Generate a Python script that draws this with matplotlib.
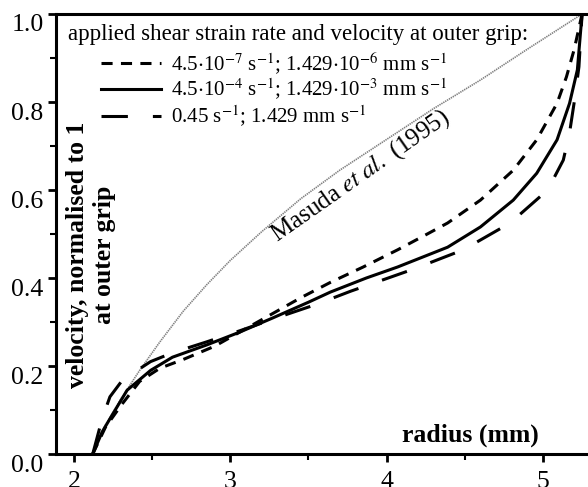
import matplotlib
matplotlib.use("Agg")
import matplotlib.pyplot as plt
from matplotlib.ticker import MultipleLocator
from matplotlib.transforms import ScaledTranslation

plt.rcParams["font.family"] = ["Liberation Serif", "DejaVu Serif"]
plt.rcParams["mathtext.fontset"] = "stix"
plt.rcParams["lines.scale_dashes"] = False

# radius (mm) / normalised velocity
r_slow = [2.12, 2.2, 2.3, 2.42, 2.55, 2.7, 2.9, 3.1, 3.3, 3.45, 3.64, 3.85,
          4.07, 4.26, 4.39, 4.6, 4.81, 4.96, 5.09, 5.15, 5.2, 5.25]
v_slow = [0.0, 0.06, 0.11, 0.165, 0.195, 0.215, 0.245, 0.285, 0.325, 0.355,
          0.39, 0.425, 0.464, 0.50, 0.525, 0.577, 0.645, 0.714, 0.797, 0.857,
          0.92, 1.0]

r_mid = [2.12, 2.18, 2.23, 2.34, 2.49, 2.63, 2.85, 3.06, 3.27, 3.5, 3.64,
         3.87, 4.07, 4.39, 4.6, 4.81, 4.96, 5.09, 5.17, 5.22, 5.25]
v_mid = [0.0, 0.05, 0.08, 0.145, 0.19, 0.22, 0.248, 0.277, 0.309, 0.345,
         0.368, 0.40, 0.425, 0.47, 0.516, 0.577, 0.638, 0.714, 0.797, 0.873,
         1.0]

r_fast = [2.12, 2.18, 2.23, 2.31, 2.49, 2.63, 2.85, 3.06, 3.3, 3.55, 3.77,
          4.17, 4.49, 4.79, 5.03, 5.13, 5.17, 5.2, 5.23, 5.25]
v_fast = [0.0, 0.08, 0.13, 0.168, 0.21, 0.23, 0.255, 0.28, 0.31, 0.34, 0.37,
          0.42, 0.464, 0.525, 0.60, 0.668, 0.73, 0.80, 0.88, 1.0]

r_masuda = [2.12, 2.16, 2.2, 2.3, 2.42, 2.55, 2.7, 2.85, 3.0, 3.2, 3.45,
            3.7, 4.0, 4.3, 4.6, 4.9, 5.25]
v_masuda = [0.0, 0.035, 0.065, 0.125, 0.19, 0.255, 0.325, 0.385, 0.44,
            0.505, 0.58, 0.645, 0.715, 0.785, 0.85, 0.92, 1.0]

labels = [
    r"4.5$\cdot$10$^{-7}$ s$^{-1}$; 1.429$\cdot$10$^{-6}$ mm s$^{-1}$",
    r"4.5$\cdot$10$^{-4}$ s$^{-1}$; 1.429$\cdot$10$^{-3}$ mm s$^{-1}$",
    r"0.45 s$^{-1}$; 1.429 mm s$^{-1}$",
]

fig = plt.figure(figsize=(5.88, 4.87), dpi=100)
ax = fig.add_axes([56 / 588, 33 / 487, 532 / 588, 440 / 487])

ax.plot(r_masuda, v_masuda, color="0.5", lw=1.2, ls=(0, (1.0, 0.6)))
l1, = ax.plot(r_slow, v_slow, color="black", lw=2.2, ls=(0, (8, 6)))
l2, = ax.plot(r_mid, v_mid, color="black", lw=2.2)
l3, = ax.plot(r_fast, v_fast, color="black", lw=2.2, ls=(0, (19, 18)))

ax.set_xlim(1.885, 5.288)
ax.set_ylim(0, 1.0)
ax.xaxis.set_major_locator(MultipleLocator(1))
ax.xaxis.set_minor_locator(MultipleLocator(0.5))
ax.yaxis.set_major_locator(MultipleLocator(0.2))
ax.yaxis.set_minor_locator(MultipleLocator(0.1))
ax.yaxis.set_major_formatter(plt.FormatStrFormatter("%.1f"))
ax.tick_params(which="major", direction="out", length=6, width=2,
               labelsize=18.5, pad=3)
ax.tick_params(which="minor", direction="out", length=4, width=1.5)
ax.tick_params(axis="x", pad=6)

for side in ["left", "bottom", "top"]:
    ax.spines[side].set_linewidth(2.2)
ax.spines["right"].set_visible(False)

# y tick labels sit a little below their ticks in the original
shift = ScaledTranslation(0, -9 / 100, fig.dpi_scale_trans)
for lab in ax.get_yticklabels():
    lab.set_transform(lab.get_transform() + shift)

ax.text(0.066, 0.452, "velocity, normalised to 1\nat outer grip",
        transform=ax.transAxes, rotation=90, ha="center", va="center",
        multialignment="center", fontsize=18.5, fontweight="bold",
        linespacing=1.22)
ax.text(0.778, 0.043, "radius (mm)", transform=ax.transAxes, ha="center",
        va="center", fontsize=18.5, fontweight="bold")
ax.text(0.573, 0.632, r"Masuda $\mathit{et\ al.}$ (1995)",
        transform=ax.transAxes, rotation=35, rotation_mode="anchor",
        ha="center", va="center", fontsize=18)

ax.text(12 / 532, 1 - 20 / 440,
        "applied shear strain rate and velocity at outer grip:",
        transform=ax.transAxes, ha="left", va="center", fontsize=16.5)
ax.legend([l1, l2, l3], labels, loc="upper left",
          bbox_to_anchor=(45 / 532, 1 - 36 / 440), frameon=False,
          fontsize=15, handlelength=2.9, handletextpad=0.45,
          labelspacing=0.05, borderpad=0, borderaxespad=0)

fig.savefig("out.png", dpi=100)
